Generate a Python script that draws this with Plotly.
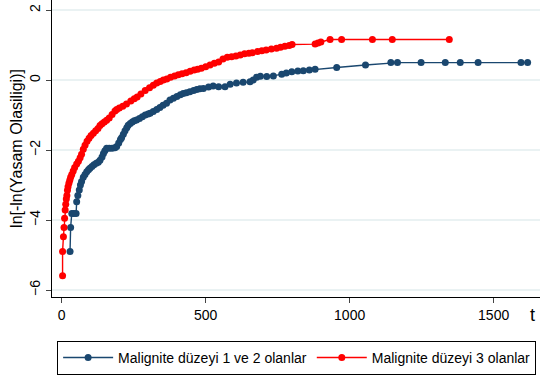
import plotly.graph_objects as go

# Group "Malignite düzeyi 1 ve 2 olanlar"
t_low = [29, 31, 35, 42, 50, 52, 56, 61, 65, 69, 75, 81, 87, 93, 98, 105, 112, 120, 127, 133,
         140, 145, 150, 156, 165, 175, 185, 191, 198, 204, 208, 214, 220, 226, 231, 238, 245, 252, 260, 270,
         280, 290, 300, 307, 318, 330, 341, 352, 364, 376, 388, 400, 412, 422, 433, 445, 458, 469, 480, 492,
         510, 526, 545, 567, 585, 607, 630, 654, 665, 677, 690, 712, 735, 764, 780, 799, 820, 839, 860, 880,
         955, 1055, 1143, 1166, 1248, 1332, 1384, 1446, 1595, 1618]
y_low = [-4.9, -4.21, -3.81, -3.81, -3.81, -3.48, -3.3, -3.14, -3.0, -2.9, -2.78, -2.7, -2.62, -2.56, -2.52,
         -2.47, -2.42, -2.38, -2.35, -2.29, -2.2, -2.1, -2.02, -1.95, -1.95, -1.95, -1.93, -1.9, -1.8, -1.7,
         -1.65, -1.55, -1.45, -1.36, -1.29, -1.24, -1.2, -1.16, -1.14, -1.1, -1.05, -1.0, -0.97, -0.95, -0.9,
         -0.84, -0.78, -0.72, -0.66, -0.57, -0.52, -0.47, -0.42, -0.38, -0.36, -0.33, -0.3, -0.27, -0.25, -0.24,
         -0.2, -0.17, -0.19, -0.19, -0.12, -0.08, -0.06, -0.05, 0.0, 0.08, 0.11, 0.1, 0.12, 0.17, 0.2,
         0.24, 0.26, 0.27, 0.29, 0.31, 0.36, 0.43, 0.5, 0.5, 0.5, 0.5, 0.5, 0.5, 0.5, 0.5]

# Group "Malignite düzeyi 3 olanlar"
t_high = [3, 3, 6, 8, 10, 12, 14, 16, 18, 20, 22, 25, 28, 31, 35, 40, 45, 52, 58, 64,
          69, 75, 81, 88, 95, 102, 110, 118, 126, 133, 140, 148, 156, 165, 175, 185, 191, 200, 212, 225,
          240, 252, 262, 275, 290, 305, 318, 330, 342, 353, 365, 378, 392, 405, 418, 432, 446, 460, 472, 485,
          500, 515, 530, 545, 560, 575, 590, 605, 620, 635, 650, 662, 680, 695, 710, 728, 746, 760, 775, 790,
          800, 880, 890, 900, 932, 972, 1079, 1148, 1346]
y_high = [-5.59, -4.9, -4.48, -4.21, -3.95, -3.71, -3.55, -3.4, -3.3, -3.15, -3.05, -2.95, -2.86, -2.78, -2.7,
          -2.6, -2.5, -2.4, -2.32, -2.22, -2.12, -1.98, -1.86, -1.75, -1.66, -1.58, -1.52, -1.45, -1.38, -1.3,
          -1.25, -1.2, -1.15, -1.08, -0.98, -0.88, -0.84, -0.8, -0.75, -0.68, -0.6, -0.53, -0.48, -0.4, -0.3,
          -0.22, -0.15, -0.08, -0.04, 0.0, 0.03, 0.08, 0.12, 0.15, 0.18, 0.21, 0.25, 0.29, 0.31, 0.34,
          0.38, 0.43, 0.48, 0.52, 0.6, 0.65, 0.67, 0.69, 0.72, 0.75, 0.77, 0.78, 0.82, 0.84, 0.86,
          0.89, 0.91, 0.94, 0.97, 0.99, 1.02, 1.03, 1.06, 1.09, 1.16, 1.16, 1.16, 1.16, 1.16]

x_ticks = [0, 500, 1000, 1500]
y_ticks = [-6, -4, -2, 0, 2]
names = ["Malignite düzeyi 1 ve 2 olanlar", "Malignite düzeyi 3 olanlar"]
colors = ["#1a476f", "#ff0000"]

fig = go.Figure()
for t, y, n, c in [(t_low, y_low, names[0], colors[0]), (t_high, y_high, names[1], colors[1])]:
    fig.add_trace(go.Scatter(x=t, y=y, name=n, mode="lines+markers",
                             line=dict(color=c, width=1.4),
                             marker=dict(color=c, size=7)))

fam = "Liberation Sans, Arial, sans-serif"
axis_font = dict(family=fam, size=14, color="black")
title_font = dict(family=fam, size=16, color="black")
fig.update_layout(
    width=540, height=376,
    margin=dict(l=52, r=0, t=0, b=79),
    plot_bgcolor="white", paper_bgcolor="white",
    font=axis_font,
    xaxis=dict(range=[-33.7, 1661], tickvals=x_ticks, ticks="outside", ticklen=5,
               showline=True, linecolor="black", linewidth=1, showgrid=False,
               zeroline=False, tickfont=axis_font),
    yaxis=dict(range=[-6.2, 2.29], tickvals=y_ticks, tickangle=-90, ticks="outside", ticklen=5,
               showline=True, linecolor="black", linewidth=1, showgrid=True,
               gridcolor="#eaf2f3", gridwidth=1.5, zeroline=False, tickfont=axis_font,
               title=dict(text="ln[-ln(Yasam Olasiligi)]", font=title_font, standoff=0)),
    legend=dict(orientation="h", x=0.0105, y=-0.148, xanchor="left", yanchor="top",
                bordercolor="black", borderwidth=1, font=axis_font, itemwidth=50,
                tracegroupgap=0),
    showlegend=True,
)
fig.add_annotation(text="t", x=0.984, y=-0.061, xref="paper", yref="paper",
                   xanchor="center", yanchor="middle",
                   showarrow=False, font=dict(family=fam, size=18, color="black"))

fig.write_html("out.html")
